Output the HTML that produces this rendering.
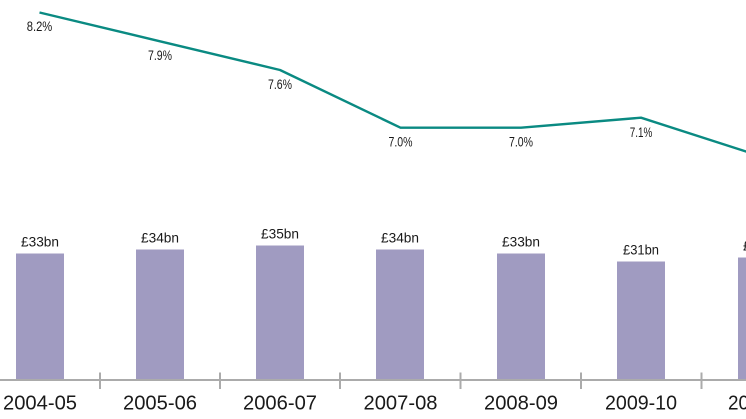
<!DOCTYPE html>
<html><head><meta charset="utf-8"><style>
html,body{margin:0;padding:0;background:#fff;}
svg{display:block;}
text{font-family:"Liberation Sans",sans-serif;fill:#1a1a1a;}
</style></head><body>
<svg width="746" height="419" viewBox="0 0 746 419" xmlns="http://www.w3.org/2000/svg">
<rect width="746" height="419" fill="#fff"/>
<g fill="#a09bc1">
<rect x="16" y="253.5" width="48" height="126"/>
<rect x="136" y="249.5" width="48" height="130"/>
<rect x="256" y="245.5" width="48" height="134"/>
<rect x="376" y="249.5" width="48" height="130"/>
<rect x="497" y="253.5" width="48" height="126"/>
<rect x="617" y="261.5" width="48" height="118"/>
<rect x="738" y="257.5" width="48" height="122"/>
</g>
<line x1="0" y1="380" x2="746" y2="380" stroke="#ababab" stroke-width="2"/>
<g stroke="#ababab" stroke-width="2">
<line x1="100" y1="372.5" x2="100" y2="389"/>
<line x1="220" y1="372.5" x2="220" y2="389"/>
<line x1="340" y1="372.5" x2="340" y2="389"/>
<line x1="460.5" y1="372.5" x2="460.5" y2="389"/>
<line x1="581" y1="372.5" x2="581" y2="389"/>
<line x1="701.5" y1="372.5" x2="701.5" y2="389"/>
</g>
<g font-size="14" text-anchor="middle">
<text x="40" y="246.5" textLength="38" lengthAdjust="spacingAndGlyphs">£33bn</text>
<text x="160" y="242.5" textLength="38" lengthAdjust="spacingAndGlyphs">£34bn</text>
<text x="280" y="238.5" textLength="38" lengthAdjust="spacingAndGlyphs">£35bn</text>
<text x="400" y="242.5" textLength="38" lengthAdjust="spacingAndGlyphs">£34bn</text>
<text x="521" y="246.5" textLength="38" lengthAdjust="spacingAndGlyphs">£33bn</text>
<text x="641" y="254.5" textLength="36" lengthAdjust="spacingAndGlyphs">£31bn</text>
<text x="762" y="250.5" textLength="38" lengthAdjust="spacingAndGlyphs">£32bn</text>
</g>
<g font-size="20" text-anchor="middle">
<text x="40" y="409.5" textLength="74" lengthAdjust="spacingAndGlyphs">2004-05</text>
<text x="160" y="409.5" textLength="74" lengthAdjust="spacingAndGlyphs">2005-06</text>
<text x="280" y="409.5" textLength="74" lengthAdjust="spacingAndGlyphs">2006-07</text>
<text x="400.5" y="409.5" textLength="74" lengthAdjust="spacingAndGlyphs">2007-08</text>
<text x="521" y="409.5" textLength="74" lengthAdjust="spacingAndGlyphs">2008-09</text>
<text x="641" y="409.5" textLength="72" lengthAdjust="spacingAndGlyphs">2009-10</text>
<text x="762" y="409.5" textLength="68" lengthAdjust="spacingAndGlyphs">2010-11</text>
</g>
<polyline points="39.5,12.5 160,41.3 280,70 400.5,127.7 521,127.7 641,117.7 760,156" fill="none" stroke="#0a8a82" stroke-width="2.4" stroke-linejoin="round"/>
<g font-size="14" text-anchor="middle">
<text x="39.5" y="31" textLength="25.5" lengthAdjust="spacingAndGlyphs">8.2%</text>
<text x="160" y="60" textLength="24" lengthAdjust="spacingAndGlyphs">7.9%</text>
<text x="280" y="89" textLength="24" lengthAdjust="spacingAndGlyphs">7.6%</text>
<text x="400.5" y="146.5" textLength="24" lengthAdjust="spacingAndGlyphs">7.0%</text>
<text x="521" y="146.5" textLength="24" lengthAdjust="spacingAndGlyphs">7.0%</text>
<text x="641" y="137" textLength="22.5" lengthAdjust="spacingAndGlyphs">7.1%</text>
</g>
</svg>
</body></html>
